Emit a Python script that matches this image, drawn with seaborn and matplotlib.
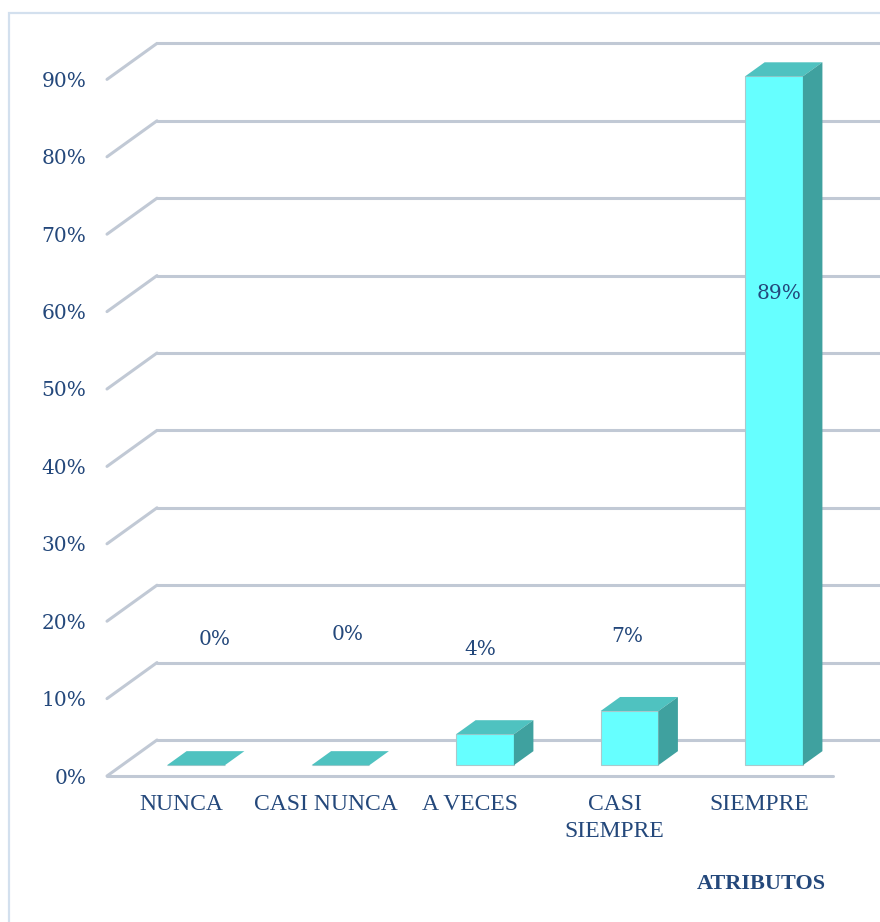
import matplotlib
matplotlib.use("Agg")
import matplotlib.pyplot as plt
from matplotlib.patches import Polygon, Rectangle
import seaborn as sns
import pandas as pd

# ---- data ----
categories = ["NUNCA", "CASI NUNCA", "A VECES", "CASI\nSIEMPRE", "SIEMPRE"]
percentages = [0, 0, 4, 7, 89]
y_ticks = [0, 10, 20, 30, 40, 50, 60, 70, 80, 90]
y_tick_labels = [f"{t}%" for t in y_ticks]
axis_title = "ATRIBUTOS"

# ---- layout of the value labels (offset in category units, height in %) ----
label_dx = [0.235, 0.156, 0.069, 0.087, 0.138]
label_y = [17.6, 18.3, 16.3, 18.0, 62.4]

# ---- style ----
FRONT = "#66FFFF"
TOP = "#4FC2C0"
SIDE = "#3FA19F"
GRID = "#c1c9d5"
TEXT = "#24487b"
BORDER = "#d3e0ee"

sns.set_style("white")
plt.rcParams["font.family"] = ["DejaVu Serif"]

W, H = 880, 922
fig = plt.figure(figsize=(W / 100, H / 100), dpi=100)
fig.patch.set_facecolor("white")

left_px, right_px, base_px, top_px = 107, 833, 776, 79.4
ax = fig.add_axes([left_px / W, 1 - base_px / H,
                   (right_px - left_px) / W, (base_px - top_px) / H])

df = pd.DataFrame({"categoria": categories, "porcentaje": percentages})
sns.barplot(data=df, x="categoria", y="porcentaje", ax=ax, width=0.4,
            color=FRONT, saturation=1, edgecolor="#a9c9cc", linewidth=0.8,
            zorder=4)

xl, xr = -0.512, 4.512
ax.set_xlim(xl, xr)
ax.set_ylim(0, 90)

# depth vector of the 3-D box (one unit = full floor depth), in data units
px_per_cat = (right_px - left_px) / (xr - xl)
px_per_pct = (base_px - top_px) / 90
DX = 50 / px_per_cat
DY = 36 / px_per_pct
BAR_FRONT, BAR_BACK = 0.30, 0.69

# walls: diagonal side lines and horizontal back lines
for t in y_ticks:
    ax.plot([xl, xl + DX], [t, t + DY], color=GRID, lw=2.2,
            solid_capstyle="round", clip_on=False, zorder=1)
    ax.plot([xl + DX, xr + DX + 1], [t + DY, t + DY], color=GRID, lw=2.2,
            solid_capstyle="round", clip_on=False, zorder=1)
# front edge of the floor
ax.plot([xl, xr], [0, 0], color=GRID, lw=2.2, solid_capstyle="round",
        clip_on=False, zorder=1)

# push bars into the box and add top and side faces
for p in ax.patches[:len(percentages)]:
    x0 = p.get_x() + BAR_FRONT * DX
    w = p.get_width()
    v = p.get_height()
    y0 = BAR_FRONT * DY
    p.set_x(x0)
    p.set_y(y0)
    p.set_clip_on(False)
    d = (BAR_BACK - BAR_FRONT)
    top = Polygon([(x0, y0 + v), (x0 + w, y0 + v),
                   (x0 + w + d * DX, y0 + v + d * DY), (x0 + d * DX, y0 + v + d * DY)],
                  closed=True, facecolor=TOP, edgecolor="none", zorder=5, clip_on=False)
    ax.add_patch(top)
    if v > 0:
        side = Polygon([(x0 + w, y0), (x0 + w, y0 + v),
                        (x0 + w + d * DX, y0 + v + d * DY), (x0 + w + d * DX, y0 + d * DY)],
                       closed=True, facecolor=SIDE, edgecolor="none", zorder=5, clip_on=False)
        ax.add_patch(side)

# value labels
for i, v in enumerate(percentages):
    ax.text(i + label_dx[i], label_y[i], f"{v}%", ha="center", va="center",
            fontsize=14.5, color=TEXT, zorder=6, clip_on=False)

# axes text
ax.set_yticks(y_ticks)
ax.set_yticklabels(y_tick_labels, fontsize=14.5, color=TEXT)
ax.set_xticks(range(len(categories)))
ax.set_xticklabels(categories, fontsize=17, color=TEXT,
                   family="Liberation Serif", linespacing=1.4)
ax.tick_params(axis="y", length=0, pad=15)
ax.tick_params(axis="x", length=0, pad=13)
ax.set_xlabel(axis_title, fontsize=16, fontweight="bold", color=TEXT,
              family="Liberation Serif", va="center")
ax.xaxis.set_label_coords((761 - left_px) / (right_px - left_px),
                          (base_px - 884) / (base_px - top_px))
ax.set_ylabel("")
for s in ax.spines.values():
    s.set_visible(False)
ax.set_facecolor("none")

# outer frame
fig.add_artist(Rectangle((9 / W, -0.05), 1.2, 1 - 13 / H + 0.05,
                         transform=fig.transFigure, fill=False,
                         edgecolor=BORDER, lw=1.6))

fig.savefig("out.png", dpi=100)
